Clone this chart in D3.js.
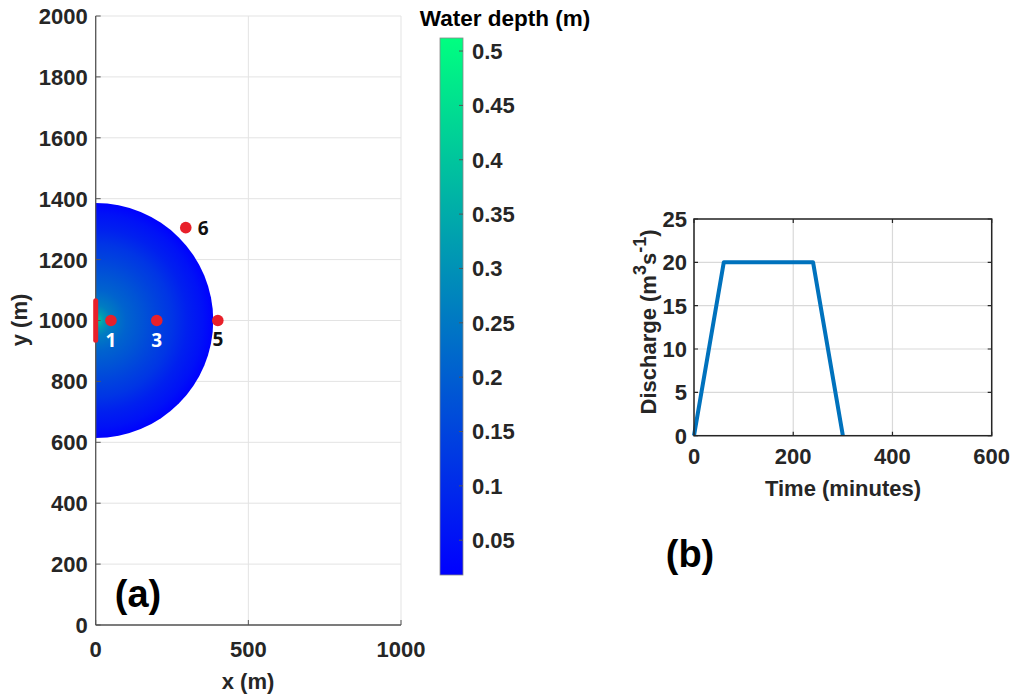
<!DOCTYPE html>
<html>
<head>
<meta charset="utf-8">
<script src="https://cdn.jsdelivr.net/npm/d3@7"></script>
<style>
  html, body { margin: 0; padding: 0; background: #fff; }
  svg { display: block; }
  text { font-family: "Liberation Sans", Arial, sans-serif; font-weight: bold; fill: #262626; }
</style>
</head>
<body>
<svg id="chart" width="1011" height="696"></svg>
<script>
// ---------- data ----------
const xTicksA = [0, 500, 1000];
const yTicksA = [0, 200, 400, 600, 800, 1000, 1200, 1400, 1600, 1800, 2000];
const depthTicks = [0.05, 0.1, 0.15, 0.2, 0.25, 0.3, 0.35, 0.4, 0.45, 0.5];
const depthRange = [0.018, 0.512];
// flood extent: semicircle centred on the inlet
const floodCenter = [0, 1000];
const floodRadius = 385;
// radial depth profile (distance from inlet in m, depth in m)
const profileDistance = [0, 10, 25, 50, 100, 150, 200, 250, 300, 350, 385];
const profileDepth = [0.44, 0.39, 0.32, 0.26, 0.21, 0.18, 0.15, 0.12, 0.08, 0.05, 0.02];
// inlet boundary
const inletY = [935, 1065];
// gauges
const gaugeIds = ["1", "3", "5", "6"];
const gaugeX = [50, 200, 400, 295];
const gaugeY = [1000, 1000, 1000, 1305];

const xTicksB = [0, 200, 400, 600];
const yTicksB = [0, 5, 10, 15, 20, 25];
const timeMin = [0, 60, 240, 300];
const discharge = [0, 20, 20, 0];

// ---------- drawing ----------
const svg = d3.select("#chart");
const tickFont = 22;

// ===== panel (a) =====
const xA = d3.scaleLinear().domain([0, 1000]).range([95.7, 401]);
const yA = d3.scaleLinear().domain([0, 2000]).range([625, 16]);

const gA = svg.append("g");
// grid
gA.selectAll(".gx").data(xTicksA).join("line")
  .attr("x1", d => xA(d)).attr("x2", d => xA(d))
  .attr("y1", yA(0)).attr("y2", yA(2000))
  .attr("stroke", "#e3e3e3").attr("stroke-width", 1);
gA.selectAll(".gy").data(yTicksA).join("line")
  .attr("x1", xA(0)).attr("x2", xA(1000))
  .attr("y1", d => yA(d)).attr("y2", d => yA(d))
  .attr("stroke", "#e3e3e3").attr("stroke-width", 1);

// colour scale (MATLAB winter)
const colour = d3.scaleLinear().domain(depthRange)
  .range(["rgb(0,0,255)", "rgb(0,255,128)"]).clamp(true);

// flood semicircle with radial gradient
const defs = svg.append("defs");
const cx = xA(floodCenter[0]), cy = yA(floodCenter[1]);
const rPx = xA(floodRadius) - xA(0);
const grad = defs.append("radialGradient").attr("id", "depthGrad")
  .attr("gradientUnits", "userSpaceOnUse")
  .attr("cx", cx).attr("cy", cy).attr("r", rPx).attr("fx", cx).attr("fy", cy);
grad.selectAll("stop").data(profileDistance).join("stop")
  .attr("offset", d => d / floodRadius)
  .attr("stop-color", (d, i) => colour(profileDepth[i]));

const arc = d3.path();
arc.moveTo(cx, yA(floodCenter[1] + floodRadius));
arc.arc(cx, cy, rPx, -Math.PI / 2, Math.PI / 2, false);
arc.closePath();
gA.append("path").attr("d", arc.toString()).attr("fill", "url(#depthGrad)");

// axes lines
gA.append("line").attr("x1", xA(0)).attr("x2", xA(0)).attr("y1", yA(0)).attr("y2", yA(2000))
  .attr("stroke", "#555").attr("stroke-width", 1.3);
gA.append("line").attr("x1", xA(0)).attr("x2", xA(1000)).attr("y1", yA(0)).attr("y2", yA(0))
  .attr("stroke", "#555").attr("stroke-width", 1.3);
// inward ticks
gA.selectAll(".ty").data(yTicksA).join("line")
  .attr("x1", xA(0)).attr("x2", xA(0) + 5).attr("y1", d => yA(d)).attr("y2", d => yA(d))
  .attr("stroke", "#555");
gA.selectAll(".tx").data(xTicksA).join("line")
  .attr("x1", d => xA(d)).attr("x2", d => xA(d)).attr("y1", yA(0)).attr("y2", yA(0) - 5)
  .attr("stroke", "#555");
// tick labels
gA.selectAll(".ly").data(yTicksA).join("text")
  .attr("x", xA(0) - 8).attr("y", d => yA(d)).attr("dy", "0.36em")
  .attr("text-anchor", "end").attr("font-size", tickFont).text(d => d);
gA.selectAll(".lx").data(xTicksA).join("text")
  .attr("x", d => xA(d)).attr("y", 657)
  .attr("text-anchor", "middle").attr("font-size", tickFont).text(d => d);
// axis labels
gA.append("text").attr("x", 248).attr("y", 689).attr("text-anchor", "middle")
  .attr("font-size", tickFont).text("x (m)");
gA.append("text").attr("transform", "translate(27,320) rotate(-90)").attr("text-anchor", "middle")
  .attr("font-size", tickFont).text("y (m)");

// inlet
gA.append("line").attr("x1", xA(0)).attr("x2", xA(0))
  .attr("y1", yA(inletY[0])).attr("y2", yA(inletY[1]))
  .attr("stroke", "#e8202a").attr("stroke-width", 5).attr("stroke-linecap", "round");

// gauges
const gauges = gaugeIds.map((id, i) => ({ id, x: gaugeX[i], y: gaugeY[i] }));
const labelStyle = {
  "1": { dx: 0, dy: 26, fill: "#fff", anchor: "middle" },
  "3": { dx: 0, dy: 26, fill: "#fff", anchor: "middle" },
  "5": { dx: 0, dy: 25, fill: "#111", anchor: "middle" },
  "6": { dx: 12, dy: 7, fill: "#111", anchor: "start" }
};
gA.selectAll(".gauge").data(gauges).join("circle")
  .attr("cx", d => xA(d.x)).attr("cy", d => yA(d.y)).attr("r", 5.8)
  .attr("fill", "#e8202a");
gA.selectAll(".glab").data(gauges).join("text")
  .attr("x", d => xA(d.x) + labelStyle[d.id].dx)
  .attr("y", d => yA(d.y) + labelStyle[d.id].dy)
  .attr("text-anchor", d => labelStyle[d.id].anchor)
  .style("font-family", "'Open Sans', sans-serif").style("font-weight", 700)
  .style("font-size", "19px")
  .style("fill", d => labelStyle[d.id].fill)
  .text(d => d.id);

// panel label
gA.append("text").attr("x", 138).attr("y", 607).attr("text-anchor", "middle")
  .attr("font-size", 38).style("fill", "#000").text("(a)");

// ===== colorbar =====
const cbX = 440, cbW = 23;
const yC = d3.scaleLinear().domain(depthRange).range([575, 38]);
const cbGrad = defs.append("linearGradient").attr("id", "cbGrad")
  .attr("x1", 0).attr("x2", 0).attr("y1", 1).attr("y2", 0);
cbGrad.selectAll("stop").data(depthRange).join("stop")
  .attr("offset", (d, i) => i)
  .attr("stop-color", d => colour(d));
svg.append("rect").attr("x", cbX).attr("y", yC(depthRange[1]))
  .attr("width", cbW).attr("height", yC(depthRange[0]) - yC(depthRange[1]))
  .attr("fill", "url(#cbGrad)").attr("stroke", "#888").attr("stroke-width", 0.8);
svg.selectAll(".cbt").data(depthTicks).join("line")
  .attr("x1", cbX + cbW - 4).attr("x2", cbX + cbW).attr("y1", d => yC(d)).attr("y2", d => yC(d))
  .attr("stroke", "#555");
svg.selectAll(".cbl").data(depthTicks).join("text")
  .attr("x", cbX + cbW + 9).attr("y", d => yC(d)).attr("dy", "0.36em")
  .attr("font-size", tickFont).text(d => d);
svg.append("text").attr("x", 505).attr("y", 26).attr("text-anchor", "middle")
  .attr("font-size", 22.5).style("fill", "#000").text("Water depth (m)");

// ===== panel (b) =====
const xB = d3.scaleLinear().domain([0, 600]).range([694, 991.7]);
const yB = d3.scaleLinear().domain([0, 25]).range([435.7, 219]);
const gB = svg.append("g");
gB.selectAll(".gbx").data(xTicksB).join("line")
  .attr("x1", d => xB(d)).attr("x2", d => xB(d)).attr("y1", yB(0)).attr("y2", yB(25))
  .attr("stroke", "#d9d9d9").attr("stroke-width", 1.2);
gB.selectAll(".gby").data(yTicksB).join("line")
  .attr("x1", xB(0)).attr("x2", xB(600)).attr("y1", d => yB(d)).attr("y2", d => yB(d))
  .attr("stroke", "#d9d9d9").attr("stroke-width", 1.2);
// ticks inward (both sides)
gB.selectAll(".tbx").data(xTicksB).join("path")
  .attr("d", d => `M${xB(d)},${yB(0)}v-4M${xB(d)},${yB(25)}v4`)
  .attr("stroke", "#262626").attr("stroke-width", 1.2);
gB.selectAll(".tby").data(yTicksB).join("path")
  .attr("d", d => `M${xB(0)},${yB(d)}h4M${xB(600)},${yB(d)}h-4`)
  .attr("stroke", "#262626").attr("stroke-width", 1.2);
// line
const line = d3.line().x((d, i) => xB(timeMin[i])).y(d => yB(d));
gB.append("path").attr("d", line(discharge)).attr("fill", "none")
  .attr("stroke", "#0072BD").attr("stroke-width", 4).attr("stroke-linejoin", "round");
// box
gB.append("rect").attr("x", xB(0)).attr("y", yB(25))
  .attr("width", xB(600) - xB(0)).attr("height", yB(0) - yB(25))
  .attr("fill", "none").attr("stroke", "#262626").attr("stroke-width", 1.5);
// tick labels
gB.selectAll(".lbx").data(xTicksB).join("text")
  .attr("x", d => xB(d)).attr("y", 464).attr("text-anchor", "middle")
  .attr("font-size", tickFont).text(d => d);
gB.selectAll(".lby").data(yTicksB).join("text")
  .attr("x", xB(0) - 7).attr("y", d => yB(d)).attr("dy", "0.36em").attr("text-anchor", "end")
  .attr("font-size", tickFont).text(d => d);
gB.append("text").attr("x", 843).attr("y", 496).attr("text-anchor", "middle")
  .attr("font-size", tickFont).text("Time (minutes)");
const yl = gB.append("text").attr("transform", "translate(656,322) rotate(-90)")
  .attr("text-anchor", "middle").attr("font-size", tickFont);
yl.append("tspan").text("Discharge (m");
yl.append("tspan").attr("dy", -10).attr("font-size", 18).text("3");
yl.append("tspan").attr("dy", 10).text("s");
yl.append("tspan").attr("dy", -10).attr("font-size", 18).text("-1");
yl.append("tspan").attr("dy", 10).text(")");

svg.append("text").attr("x", 690).attr("y", 567).attr("text-anchor", "middle")
  .attr("font-size", 38).style("fill", "#000").text("(b)");
</script>
</body>
</html>
